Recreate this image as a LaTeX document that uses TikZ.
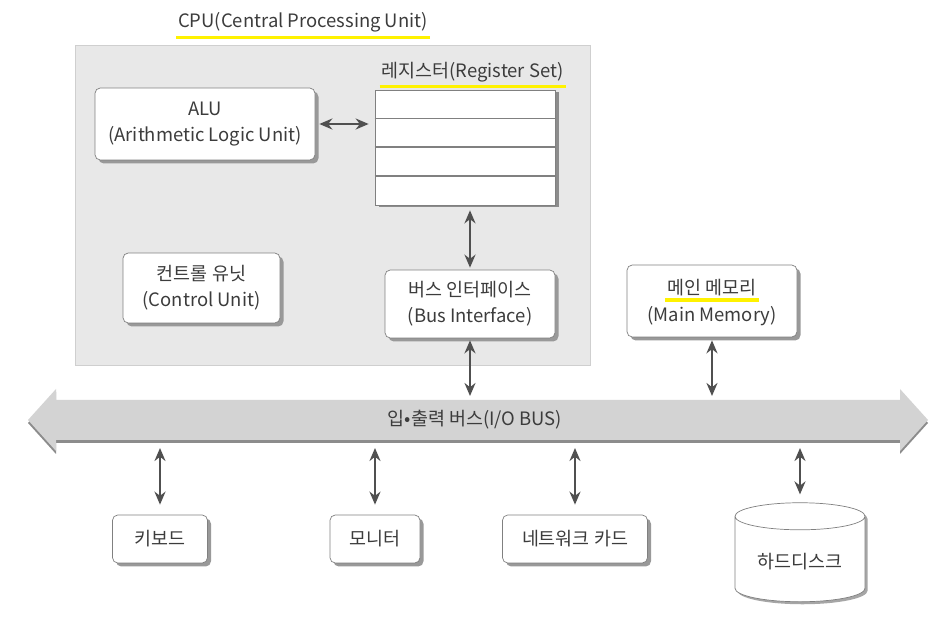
\documentclass[tikz,border=0pt]{standalone}
\usepackage{fontspec}
\setmainfont{Noto Sans CJK KR}
\usetikzlibrary{arrows,arrows.meta,shapes.geometric,shadows}
\definecolor{boxline}{HTML}{808080}
\definecolor{cpufill}{HTML}{E8E8E8}
\definecolor{cpuline}{HTML}{CFCFCF}
\definecolor{busfill}{HTML}{D3D3D3}
\definecolor{ink}{HTML}{3C3C3C}
\definecolor{hilite}{HTML}{FFF200}
\tikzset{
    unit/.style={draw=boxline, fill=white, rounded corners=3pt, align=center, text=ink,
        drop shadow={shadow xshift=0.7mm, shadow yshift=-0.7mm, fill=black!40, opacity=1}},
    link/.style={{Stealth[length=2.6mm,width=2.2mm]}-{Stealth[length=2.6mm,width=2.2mm]}, draw=ink!90, line width=1.3pt},
    hiline/.style={draw=hilite, line width=2pt},
    label/.style={text=ink, inner sep=1pt}
}
\begin{document}
\begin{tikzpicture}[font=\fontsize{10.5}{15}\selectfont]
\useasboundingbox (0,0) rectangle (18.96,12.64);
%
\node[draw=cpuline, fill=cpufill, minimum width=10.3cm, minimum height=6.4cm] (cpu) at (6.65,8.54) {};
\node[label] (cputitle) at (6.06,12.2) {CPU(Central Processing Unit)};
\draw[hiline] ([yshift=-2pt]cputitle.south west) -- ([yshift=-2pt]cputitle.south east);
%
\node[label] (reglabel) at (9.45,11.2) {레지스터(Register Set)};
\draw[hiline] ([yshift=-1.5pt]reglabel.south west) -- ([yshift=-1.5pt]reglabel.south east);
\node[draw=boxline, fill=white, minimum width=3.6cm, minimum height=2.3cm,
    drop shadow={shadow xshift=0.7mm, shadow yshift=-0.5mm, fill=black!45, opacity=1}] (reg) at (9.3,9.69) {};
\foreach \i in {1,2,3}
    \draw[boxline, line width=0.8pt] ([yshift=-\i*0.575cm]reg.north west) -- ([yshift=-\i*0.575cm]reg.north east);
%
\node[unit, minimum width=4.4cm, minimum height=1.44cm] (alu) at (4.1,10.16) {ALU\\(Arithmetic Logic Unit)};
\node[unit, minimum width=3.14cm, minimum height=1.4cm] (cu) at (4.03,6.88) {컨트롤 유닛\\(Control Unit)};
\node[unit, minimum width=3.4cm, minimum height=1.36cm] (bi) at (9.4,6.56) {버스 인터페이스\\(Bus Interface)};
%
\node[unit, minimum width=3.4cm, minimum height=1.44cm] (mem) at (14.24,6.62) {};
\node[label] (memko) at ([yshift=0.26cm]mem.center) {메인 메모리};
\draw[hiline] ([yshift=-1pt]memko.south west) -- ([yshift=-1pt]memko.south east);
\node[label] (memen) at ([yshift=-0.3cm]mem.center) {(Main Memory)};
%
\draw[link, shorten <=0.08cm, shorten >=0.12cm] (alu.east) -- (reg.west |- alu.east);
\draw[link, shorten <=0.1cm, shorten >=0.04cm] (bi.north |- reg.south) -- (bi.north);
%%%%%%%%%%%%%%%%%%%%%%%%%%%%%%%%%%%%%
% I/O bus
\fill[busfill, drop shadow={shadow xshift=0mm, shadow yshift=-0.6mm, fill=black!45, opacity=1}]
    (0.56,4.24) -- (1.12,4.86) -- (1.12,4.64) -- (18.0,4.64) -- (18.0,4.86) -- (18.56,4.24)
    -- (18.0,3.62) -- (18.0,3.84) -- (1.12,3.84) -- (1.12,3.62) -- cycle;
\node[label] (bus) at (9.5,4.24) {입•출력 버스(I/O BUS)};
\coordinate (bustop) at (0,4.64);
\coordinate (busbot) at (0,3.84);
%
\draw[link, shorten <=0.04cm, shorten >=0.08cm] (bi.south) -- (bi.south |- bustop);
\draw[link, shorten <=0.06cm, shorten >=0.08cm] (mem.south) -- (mem.south |- bustop);
%%%%%%%%%%%%%%%%%%%%%%%%%%%%%%%%%%%%%
% devices
\node[unit, minimum width=1.9cm, minimum height=0.96cm] (kbd) at (3.2,1.86) {키보드};
\node[unit, minimum width=1.8cm, minimum height=0.96cm] (mon) at (7.5,1.86) {모니터};
\node[unit, minimum width=2.9cm, minimum height=0.96cm] (nic) at (11.5,1.86) {네트워크 카드};
\node[cylinder, shape border rotate=90, aspect=0.28, draw=boxline, fill=white, text=ink,
    minimum width=2.6cm, minimum height=1.98cm,
    drop shadow={shadow xshift=0.5mm, shadow yshift=-0.5mm, fill=black!35, opacity=1}] (hdd) at (16.0,1.4) {하드디스크};
%
\draw[link, shorten <=0.16cm, shorten >=0.2cm] (kbd.north |- busbot) -- (kbd.north);
\draw[link, shorten <=0.16cm, shorten >=0.2cm] (mon.north |- busbot) -- (mon.north);
\draw[link, shorten <=0.16cm, shorten >=0.2cm] (nic.north |- busbot) -- (nic.north);
\draw[link, shorten <=0.16cm, shorten >=0.16cm] (hdd.top |- busbot) -- (hdd.top);
\end{tikzpicture}
\end{document}
